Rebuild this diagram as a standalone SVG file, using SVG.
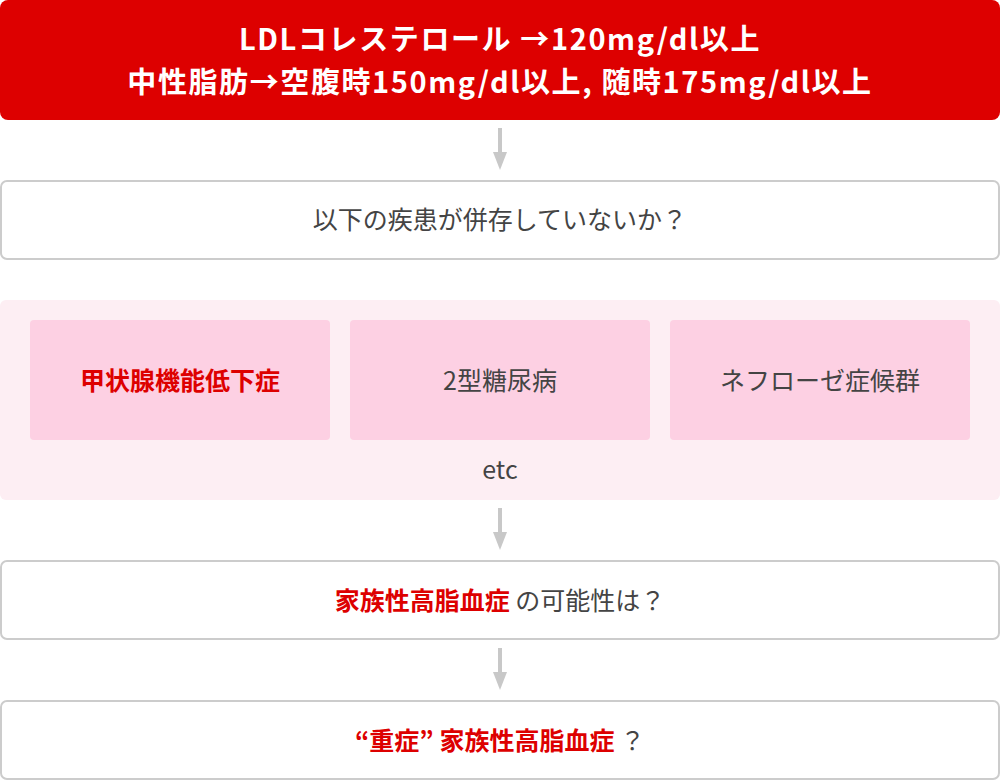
<svg xmlns="http://www.w3.org/2000/svg" width="1000" height="780" viewBox="0 0 1000 780">
<style>
text{font-family:"Noto Sans CJK JP","Noto Sans",sans-serif;text-anchor:middle}
.hd{fill:#fff;font-size:29px;font-weight:700;letter-spacing:1.6px}
.q{fill:#444;font-size:25px}
.r{fill:#dd0000;font-weight:700}
.box{fill:#fff;stroke:#cccccc;stroke-width:2}
.sub{fill:#fdd0e3}
.con{stroke:#c8c8c8;stroke-width:4;fill:none}
.ah{fill:#c8c8c8}
</style>
<rect width="1000" height="780" fill="#fff"/>
<g id="connectors">
<line class="con" x1="500" y1="128" x2="500" y2="154"/><path class="ah" d="M493,152 L507,152 L500,170 Z"/>
<line class="con" x1="500" y1="508" x2="500" y2="534"/><path class="ah" d="M493,532 L507,532 L500,550 Z"/>
<line class="con" x1="500" y1="648" x2="500" y2="674"/><path class="ah" d="M493,672 L507,672 L500,690 Z"/>
</g>
<g id="criteria">
<rect x="0" y="0" width="1000" height="120" rx="8" fill="#dd0000"/>
<text class="hd" x="500" y="49.5">LDLコレステロール →120mg/dl以上</text>
<text class="hd" x="500" y="92.5">中性脂肪→空腹時150mg/dl以上, 随時175mg/dl以上</text>
</g>
<g id="check">
<rect class="box" x="1" y="181" width="998" height="78" rx="6"/>
<text class="q" x="500" y="229">以下の疾患が併存していないか？</text>
</g>
<g id="diseases">
<rect x="0" y="300" width="1000" height="200" rx="6" fill="#fdeef3"/>
<text class="q" x="500" y="479">etc</text>
</g>
<g id="hypothyroid">
<rect class="sub" x="30" y="320" width="300" height="120" rx="4"/>
<text class="q r" x="180" y="390">甲状腺機能低下症</text>
</g>
<g id="diabetes">
<rect class="sub" x="350" y="320" width="300" height="120" rx="4"/>
<text class="q" x="500" y="390">2型糖尿病</text>
</g>
<g id="nephrotic">
<rect class="sub" x="670" y="320" width="300" height="120" rx="4"/>
<text class="q" x="820" y="390">ネフローゼ症候群</text>
</g>
<g id="fh">
<rect class="box" x="1" y="561" width="998" height="78" rx="6"/>
<text class="q" x="500" y="610"><tspan class="r">家族性高脂血症</tspan> の可能性は？</text>
</g>
<g id="severe-fh">
<rect class="box" x="1" y="701" width="998" height="78" rx="6"/>
<text class="q" x="500" y="750"><tspan class="r">“重症” 家族性高脂血症</tspan> ？</text>
</g>
</svg>
